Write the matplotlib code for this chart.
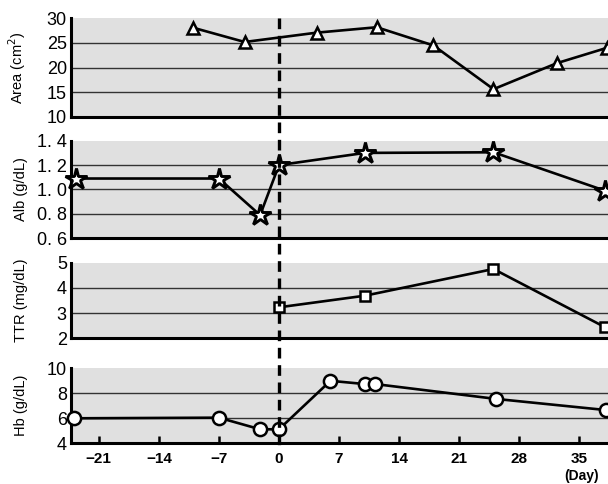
import matplotlib
matplotlib.use("Agg")
import matplotlib.pyplot as plt
import matplotlib.transforms as mtransforms
from matplotlib.lines import Line2D

plt.rcParams['font.family'] = ['Liberation Sans Narrow', 'Liberation Sans', 'DejaVu Sans']

# data (days relative to day 0)
area_day = [-10, -4, 4.4, 11.4, 18, 25, 32.4, 38.2]
area_val = [28.1, 25.2, 27.1, 28.2, 24.5, 15.6, 20.9, 24.0]

alb_day = [-23.6, -7, -2.2, 0, 10, 25, 38]
alb_val = [1.09, 1.09, 0.79, 1.20, 1.30, 1.305, 0.99]

ttr_day = [0, 10, 25, 38]
ttr_val = [3.23, 3.69, 4.75, 2.44]

hb_day = [-23.9, -7, -2.2, 0, 6, 10, 11.2, 25.3, 38.1]
hb_val = [6.0, 6.05, 5.12, 5.12, 9.0, 8.74, 8.74, 7.55, 6.66]

x_ticks = [-21, -14, -7, 0, 7, 14, 21, 28, 35]
x_ticklabels = ['\u221221', '\u221214', '\u22127', '0', '7', '14', '21', '28', '35']

W, H = 608, 484
fig = plt.figure(figsize=(W / 100, H / 100), dpi=100)

xlo, xhi = -24.24, 40.0
left_px, right_px = 71, 279 + 40 * 8.58

# (top px, bottom px, ylim, yticks, yticklabels, ylabel, days, vals, marker, ms, mew)
panels = [
    (18.4, 116.7, (10, 30), [10, 15, 20, 25, 30], ['10', '15', '20', '25', '30'],
     'Area (cm$^2$)', area_day, area_val, '^', 8, 1.8),
    (140.7, 238.3, (0.6, 1.4), [0.6, 0.8, 1.0, 1.2, 1.4], ['0. 6', '0. 8', '1. 0', '1. 2', '1. 4'],
     'Alb (g/dL)', alb_day, alb_val, '*', 16, 2.1),
    (262.7, 338.3, (2, 5), [2, 3, 4, 5], ['2', '3', '4', '5'],
     'TTR (mg/dL)', ttr_day, ttr_val, 's', 7.5, 1.8),
    (368.3, 443.3, (4, 10), [4, 6, 8, 10], ['4', '6', '8', '10'],
     'Hb (g/dL)', hb_day, hb_val, 'o', 9.5, 1.8),
]

axes = []
for i, (top, bot, ylim, yt, ytl, ylab, xd, yd, mk, ms, mew) in enumerate(panels):
    ax = fig.add_axes([left_px / W, 1 - bot / H, (right_px - left_px) / W, (bot - top) / H])
    ax.set_facecolor('#e0e0e0')
    ax.set_xlim(xlo, xhi)
    ax.set_ylim(*ylim)
    ax.set_yticks(yt)
    ax.set_yticklabels(ytl, fontsize=13)
    for g in yt[1:-1]:
        ax.axhline(g, color='#333333', lw=1.0, zorder=1)
    ax.plot(xd, yd, color='black', lw=1.9, marker=mk, ms=ms, mfc='white',
            mec='black', mew=mew, zorder=3, clip_on=False)
    for s in ['top', 'right']:
        ax.spines[s].set_visible(False)
    for s in ['left', 'bottom']:
        ax.spines[s].set_linewidth(2.2)
    ax.tick_params(axis='y', length=0, pad=3)
    ax.set_ylabel(ylab, fontsize=10.5)
    ax.yaxis.set_label_coords(-0.078, 0.5)
    if i < 3:
        ax.set_xticks([])
    else:
        ax.set_xticks(x_ticks)
        ax.set_xticklabels(x_ticklabels, fontsize=11, fontweight='bold')
        ax.tick_params(axis='x', direction='in', length=5, width=1.8, pad=6)
    axes.append(ax)

# dashed line at day 0 across all panels
trans = mtransforms.blended_transform_factory(axes[0].transData, fig.transFigure)
fig.add_artist(Line2D([0, 0], [1 - 18 / H, 1 - 448 / H], transform=trans,
                      color='black', lw=2.4, dashes=(3.2, 2.0), zorder=5))

fig.text(582 / W, 1 - 476 / H, '(Day)', fontsize=10, fontweight='bold',
         ha='center', va='center')

fig.savefig('out.png', dpi=100)
